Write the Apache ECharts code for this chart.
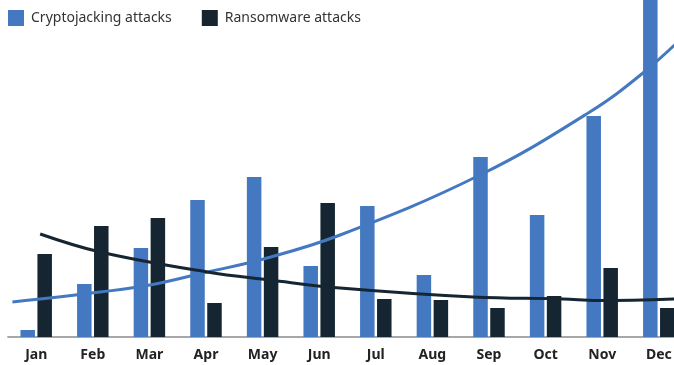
<!DOCTYPE html>
<html>
<head>
<meta charset="utf-8">
<script src="https://cdn.jsdelivr.net/npm/echarts@6/dist/echarts.min.js"></script>
<style>
  html, body { margin: 0; padding: 0; background: #fff; }
  #chart { width: 674px; height: 365px; }
</style>
</head>
<body>
<div id="chart"></div>
<script>
// Monthly attack counts (relative units)
const months = ['Jan', 'Feb', 'Mar', 'Apr', 'May', 'Jun', 'Jul', 'Aug', 'Sep', 'Oct', 'Nov', 'Dec'];
const cryptojacking = [7, 53, 89, 137, 160, 71, 131, 62, 180, 122, 221, 380];
const ransomware = [83, 111, 119, 34, 90, 134, 38, 37, 29, 41, 69, 29];

// Trend curves as [month position, value] pairs (0 = Jan, 11 = Dec)
const cryptoTrend = [[-0.42, 35], [1.13, 45], [2.01, 52], [3.02, 65], [3.95, 77], [5.37, 102], [7.84, 162], [9.78, 225], [10.72, 264], [11.5, 304]];
const ransomTrend = [[0.07, 103], [1.13, 85], [3.02, 65], [4.13, 57], [5.37, 49], [7.72, 40], [9.31, 38], [9.91, 36.5], [11.5, 38.5]];

const BLUE = '#4479c1';
const NAVY = '#152632';

const chart = echarts.init(document.getElementById('chart'));
chart.setOption({
  animation: false,
  legend: {
    data: ['Cryptojacking attacks', 'Ransomware attacks'],
    left: 8,
    top: 10,
    padding: 0,
    icon: 'rect',
    itemWidth: 16,
    itemHeight: 16,
    itemGap: 30,
    textStyle: { fontFamily: 'Noto Sans', fontSize: 14, color: '#333', padding: [0, 0, 0, 2] }
  },
  // plot area runs past the right edge, so the last month is cut off
  grid: { left: 7.9, width: 679.2, top: 0, bottom: 28, containLabel: false, outerBoundsMode: 'none' },
  xAxis: [
    {
      type: 'category',
      data: months,
      axisLine: { lineStyle: { color: '#8a8a8a', width: 1.5 } },
      axisTick: { show: false },
      axisLabel: { fontFamily: 'Noto Sans', fontWeight: 'bold', fontSize: 14, color: '#222', margin: 11 }
    },
    {
      type: 'value',
      min: -0.5,
      max: 11.5,
      show: false
    }
  ],
  yAxis: {
    type: 'value',
    min: 0,
    max: 337,
    show: false,
    splitLine: { show: false }
  },
  series: [
    {
      name: 'Cryptojacking attacks',
      type: 'bar',
      data: cryptojacking,
      barWidth: 14.5,
      barGap: '17%',
      itemStyle: { color: BLUE },
      clip: true
    },
    {
      name: 'Ransomware attacks',
      type: 'bar',
      data: ransomware,
      barWidth: 14.5,
      itemStyle: { color: NAVY },
      clip: true
    },
    {
      name: 'Cryptojacking trend',
      type: 'line',
      xAxisIndex: 1,
      data: cryptoTrend,
      smooth: 0.4,
      symbol: 'none',
      lineStyle: { color: BLUE, width: 3 },
      z: 5
    },
    {
      name: 'Ransomware trend',
      type: 'line',
      xAxisIndex: 1,
      data: ransomTrend,
      smooth: 0.4,
      symbol: 'none',
      lineStyle: { color: NAVY, width: 3 },
      z: 5
    }
  ]
});
</script>
</body>
</html>
